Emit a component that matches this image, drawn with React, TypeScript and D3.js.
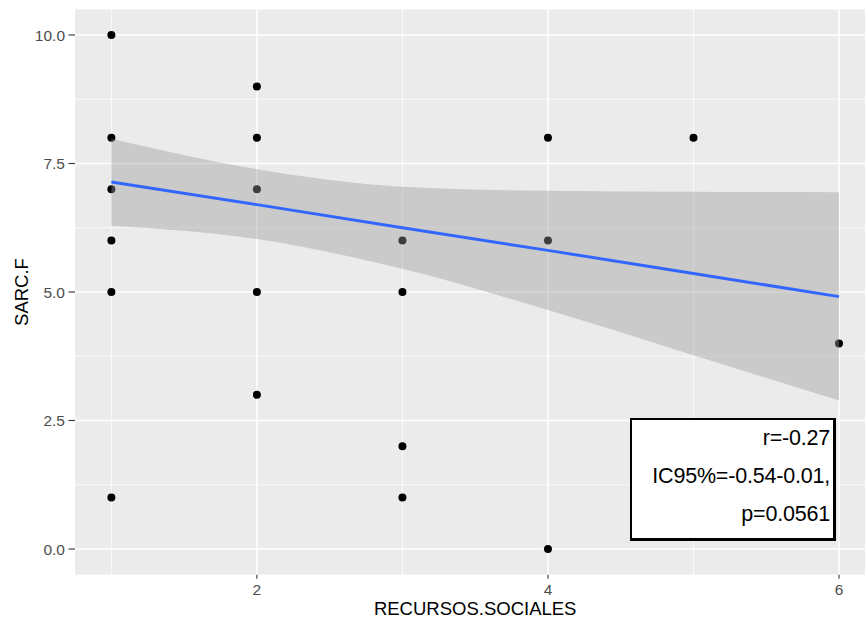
import React from "react";
import * as d3 from "d3";

// Observations: RECURSOS.SOCIALES (x) vs SARC.F (y)
const pointX = [1, 1, 1, 1, 1, 1, 2, 2, 2, 2, 2, 3, 3, 3, 3, 4, 4, 4, 5, 6];
const pointY = [10, 8, 7, 6, 5, 1, 9, 8, 7, 5, 3, 6, 5, 2, 1, 8, 6, 0, 8, 4];

// Linear fit with 95% confidence band
const bandX = [1, 2, 3, 4, 5, 6];
const fitY = [7.14, 6.7, 6.25, 5.81, 5.36, 4.91];
const upperY = [7.98, 7.39, 7.05, 6.97, 6.95, 6.94];
const lowerY = [6.29, 6.03, 5.45, 4.65, 3.77, 2.89];

const xMajor = [2, 4, 6];
const xMinor = [1, 3, 5];
const yMajor = [0, 2.5, 5, 7.5, 10];
const yMinor = [1.25, 3.75, 6.25, 8.75];
const yTickLabels = ["0.0", "2.5", "5.0", "7.5", "10.0"];

const statLines = ["r=-0.27", "IC95%=-0.54-0.01,", "p=0.0561"];

const W = 865;
const H = 623;
const panel = { left: 75, right: 875.4, top: 9.3, bottom: 574.7 };
const font = "'Liberation Sans', Arial, Helvetica, sans-serif";

export default function App() {
  const x = d3.scaleLinear().domain([0.75, 6.25]).range([panel.left, panel.right]);
  const y = d3.scaleLinear().domain([-0.5, 10.5]).range([panel.bottom, panel.top]);

  const band = d3
    .area<number>()
    .x((_, i) => x(bandX[i]))
    .y0((_, i) => y(lowerY[i]))
    .y1((_, i) => y(upperY[i]))
    .curve(d3.curveMonotoneX)(bandX);

  const fitLine = d3
    .line<number>()
    .x((_, i) => x(bandX[i]))
    .y((_, i) => y(fitY[i]))(bandX);

  const boxL = 630, boxR = 836, boxT = 418, boxB = 541;

  return (
    <svg width={W} height={H} style={{ position: "absolute", left: 0, top: 0, display: "block" }}>
      <rect x={0} y={0} width={W} height={H} fill="#ffffff" />
      <defs>
        <clipPath id="panelClip">
          <rect x={panel.left} y={panel.top} width={panel.right - panel.left} height={panel.bottom - panel.top} />
        </clipPath>
      </defs>
      <g clipPath="url(#panelClip)">
        <rect x={panel.left} y={panel.top} width={panel.right - panel.left} height={panel.bottom - panel.top} fill="#EBEBEB" />
        {yMinor.map((v) => (
          <line key={"ym" + v} x1={panel.left} x2={panel.right} y1={y(v)} y2={y(v)} stroke="#fff" strokeWidth={0.75} />
        ))}
        {xMinor.map((v) => (
          <line key={"xm" + v} x1={x(v)} x2={x(v)} y1={panel.top} y2={panel.bottom} stroke="#fff" strokeWidth={0.75} />
        ))}
        {yMajor.map((v) => (
          <line key={"yM" + v} x1={panel.left} x2={panel.right} y1={y(v)} y2={y(v)} stroke="#fff" strokeWidth={1.5} />
        ))}
        {xMajor.map((v) => (
          <line key={"xM" + v} x1={x(v)} x2={x(v)} y1={panel.top} y2={panel.bottom} stroke="#fff" strokeWidth={1.5} />
        ))}
        {pointX.map((px, i) => (
          <circle key={"p" + i} cx={x(px)} cy={y(pointY[i])} r={4} fill="#000" />
        ))}
        <path d={band ?? ""} fill="#999999" fillOpacity={0.4} />
        <path d={fitLine ?? ""} fill="none" stroke="#3366FF" strokeWidth={3} />
        {/* statistics box */}
        <rect x={boxL} y={boxT} width={boxR - boxL} height={boxB - boxT} fill="#000" />
        <rect x={boxL + 2} y={boxT + 2} width={boxR - boxL - 5} height={boxB - boxT - 5} fill="#fff" />
        {statLines.map((s, i) => (
          <text key={s} x={830} y={445 + i * 38} textAnchor="end" fontFamily={font} fontSize={21.5} fill="#000" letterSpacing={-0.2}>
            {s}
          </text>
        ))}
      </g>
      {/* y axis */}
      {yMajor.map((v, i) => (
        <g key={"yt" + v}>
          <line x1={68.5} x2={panel.left} y1={y(v)} y2={y(v)} stroke="#333" strokeWidth={1.1} />
          <text x={65} y={y(v)} dy="0.36em" textAnchor="end" fontFamily={font} fontSize={15.5} fill="#4D4D4D">
            {yTickLabels[i]}
          </text>
        </g>
      ))}
      {/* x axis */}
      {xMajor.map((v) => (
        <g key={"xt" + v}>
          <line x1={x(v)} x2={x(v)} y1={panel.bottom} y2={panel.bottom + 4} stroke="#333" strokeWidth={1.1} />
          <text x={x(v)} y={595} textAnchor="middle" fontFamily={font} fontSize={15.5} fill="#4D4D4D">
            {v}
          </text>
        </g>
      ))}
      <text x={(panel.left + panel.right) / 2} y={615} textAnchor="middle" fontFamily={font} fontSize={18.5} fill="#000">
        RECURSOS.SOCIALES
      </text>
      <text transform={`translate(28, ${(panel.top + panel.bottom) / 2}) rotate(-90)`} textAnchor="middle" fontFamily={font} fontSize={18.5} fill="#000">
        SARC.F
      </text>
    </svg>
  );
}
